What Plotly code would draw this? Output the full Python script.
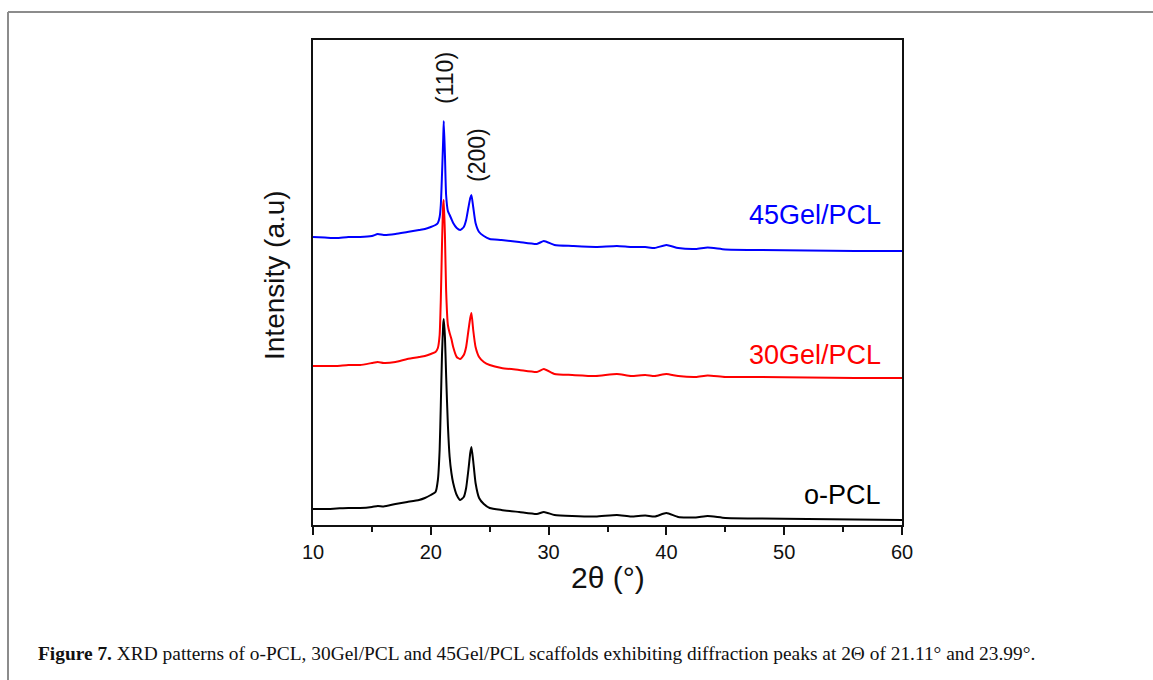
import plotly.graph_objects as go

# 2-theta grid (degrees) shared by the three patterns
two_theta = [10, 11, 12, 13, 14, 15, 15.5, 16, 17, 18, 19, 19.5, 20, 20.4, 20.6,
             20.75, 20.85, 20.95, 21.05, 21.1, 21.2, 21.3, 21.45, 21.6, 21.75, 21.9,
             22.2, 22.5, 22.8, 23.0, 23.2, 23.35, 23.45, 23.6, 23.8, 24.1, 24.5, 25,
             26, 27.5, 29, 29.6, 30.5, 32, 34, 35.8, 37, 38.2, 39, 40, 41, 42.5, 43.5,
             45, 48, 52, 56, 60]

# Intensities (a.u.), each pattern already offset vertically
o_pcl = [16, 16, 16.5, 17, 17, 18, 19, 18.5, 21, 23, 25, 27, 30, 33, 45,
         75, 120, 170, 200, 206, 188, 150, 100, 68, 52, 42,
         30, 25, 28, 37, 56, 72, 78, 64, 42, 27, 21, 17,
         15, 13, 11, 13, 10, 9, 8.5, 10, 8.5, 9.5, 8.5, 12, 8, 7.5, 9,
         7, 6.5, 6, 5.5, 5]

gel30_pcl = [159, 159, 159, 160, 160, 162, 163, 162, 163, 166, 168, 169, 171, 173, 177,
             190, 225, 280, 320, 325, 290, 235, 200, 192, 186, 178,
             168, 166, 170, 178, 195, 207, 212, 195, 178, 168, 163, 160,
             157, 155, 153, 156, 151, 150, 149, 151, 149, 150, 149, 151, 149, 148, 149.5,
             148, 148, 147.5, 147, 147]

gel45_pcl = [288, 287.5, 287, 288, 288, 289, 291, 290, 291, 293, 295, 296, 298, 300, 302,
             308, 320, 350, 385, 404, 370, 330, 314, 310, 306, 302,
             297, 295, 298, 305, 318, 327, 330, 318, 302, 293, 289, 286,
             285, 283, 281, 284, 280, 279, 278, 279, 278, 278, 277, 280, 277, 276, 277.5,
             275.5, 275, 274.5, 274, 274]

series = [("o-PCL", o_pcl, "#000000"),
          ("30Gel/PCL", gel30_pcl, "#ff0000"),
          ("45Gel/PCL", gel45_pcl, "#0000ff")]

W, H = 1153, 680
L, R, T, B = 313, 902, 40, 525  # plot-area edges in pixels

fig = go.Figure()
for name, vals, col in series:
    fig.add_trace(go.Scatter(x=two_theta, y=vals, mode="lines", name=name,
                             line=dict(color=col, width=2, shape="spline", smoothing=0.5),
                             showlegend=False))

font = "Liberation Sans, Arial, sans-serif"
serif = "Liberation Serif, Times New Roman, serif"

def px_x(p):
    return (p - L) / (R - L)

def px_y(p):
    return (B - p) / (B - T)

annotations = [
    dict(x=21.2, y=447, text="(110)", textangle=-90, showarrow=False,
         xanchor="center", yanchor="middle",
         font=dict(family=font, size=23, color="#111")),
    dict(x=23.92, y=370, text="(200)", textangle=-90, showarrow=False,
         xanchor="center", yanchor="middle",
         font=dict(family=font, size=23, color="#111")),
    dict(x=58.4, y=310, text="45Gel/PCL", xanchor="right", yanchor="middle",
         showarrow=False, font=dict(family=font, size=27, color="#0000ff")),
    dict(x=58.4, y=170, text="30Gel/PCL", xanchor="right", yanchor="middle",
         showarrow=False, font=dict(family=font, size=27, color="#ff0000")),
    dict(x=58.4, y=30, text="o-PCL", xanchor="right", yanchor="middle",
         showarrow=False, font=dict(family=font, size=27, color="#000000")),
    dict(xref="paper", yref="paper", x=0.5, y=px_y(577), text="2θ (°)",
         xanchor="center", yanchor="middle",
         showarrow=False, font=dict(family=font, size=30, color="#111")),
    dict(xref="paper", yref="paper", x=px_x(274), y=px_y(275), text="Intensity (a.u)",
         xanchor="center", yanchor="middle",
         textangle=-90, showarrow=False, font=dict(family=font, size=28, color="#111")),
    dict(xref="paper", yref="paper", x=px_x(36), y=px_y(653), xanchor="left",
         yanchor="middle",
         text="<b>Figure 7.</b> XRD patterns of o-PCL, 30Gel/PCL and 45Gel/PCL scaffolds "
              "exhibiting diffraction peaks at 2Θ of 21.11° and 23.99°.",
         showarrow=False, font=dict(family=serif, size=19.4, color="#111")),
]

# page frame: grey rule along the top and left edges
shapes = [
    dict(type="line", xref="paper", yref="paper", x0=px_x(8), x1=px_x(W + 5),
         y0=px_y(12), y1=px_y(12), line=dict(color="#8c8c8c", width=2)),
    dict(type="line", xref="paper", yref="paper", x0=px_x(8), x1=px_x(8),
         y0=px_y(12), y1=px_y(H + 5), line=dict(color="#8c8c8c", width=2)),
]

fig.update_layout(
    width=W, height=H,
    margin=dict(l=L, r=W - R, t=T, b=H - B),
    paper_bgcolor="white", plot_bgcolor="white",
    annotations=annotations, shapes=shapes,
    xaxis=dict(range=[10, 60], dtick=10, tick0=10, ticks="outside", ticklen=8,
               tickwidth=1.5, tickcolor="#111", showline=True, linecolor="#111",
               linewidth=1.5, mirror=True, showgrid=False, zeroline=False,
               tickfont=dict(family=font, size=20, color="#111"),
               minor=dict(dtick=5, tick0=10, ticks="outside", ticklen=5,
                          tickwidth=1.5, tickcolor="#111", showgrid=False)),
    yaxis=dict(range=[0, B - T], showticklabels=False, ticks="", showline=True,
               linecolor="#111", linewidth=1.5, mirror=True, showgrid=False,
               zeroline=False),
)

fig.write_html("out.html")
